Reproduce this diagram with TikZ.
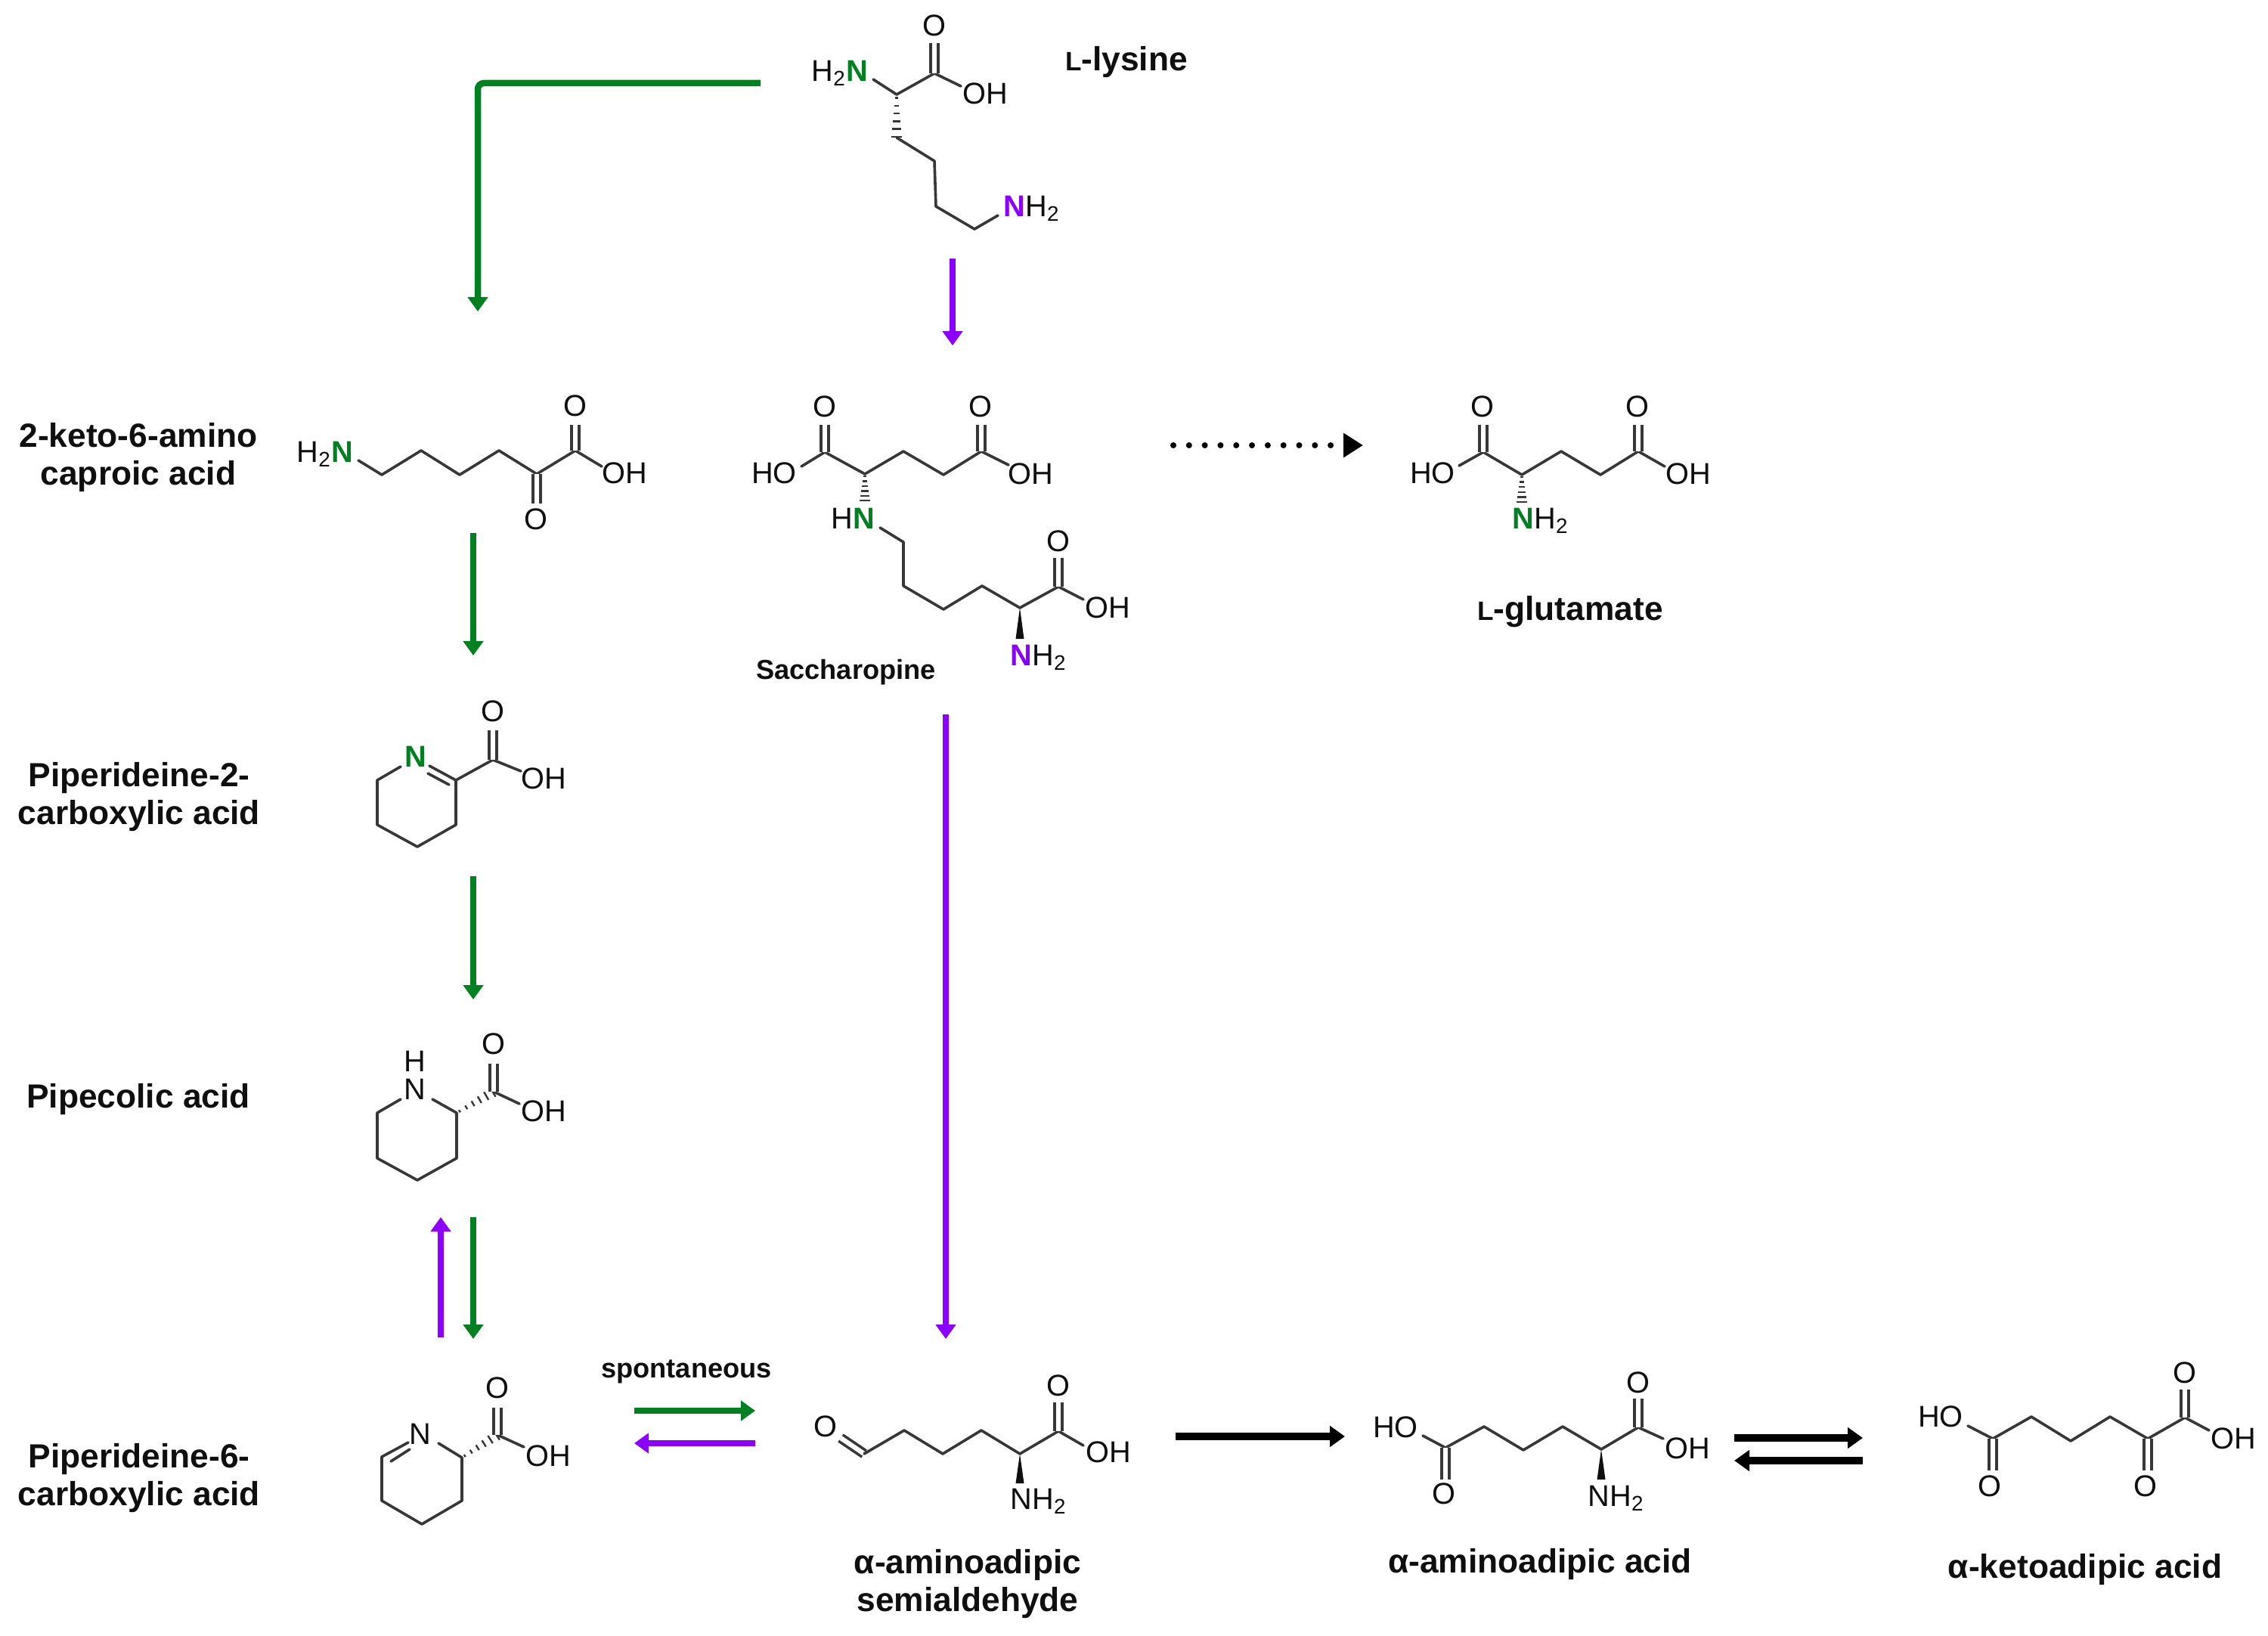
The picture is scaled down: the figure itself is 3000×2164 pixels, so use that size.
\documentclass[tikz,border=0pt]{standalone}
\usepackage{xcolor}
\usepackage{fontspec}
\setmainfont{Liberation Sans}
\usetikzlibrary{arrows.meta, calc}
\definecolor{mygreen}{RGB}{0,128,32}
\definecolor{mypurple}{RGB}{139,0,255}
\definecolor{mybond}{RGB}{55,55,55}
\definecolor{mydark}{RGB}{15,15,15}
\newcommand{\gN}{\textcolor{mygreen}{\textbf{N}}}
\newcommand{\pN}{\textcolor{mypurple}{\textbf{N}}}
\newcommand{\sbtwo}{\textsubscript{2}}
\newcommand{\smallL}{{\fontsize{10}{11}\selectfont L}}
\newcommand{\hashbond}[2]{%
  \foreach \t/\w in {0.08/0.5pt,0.26/0.8pt,0.44/1.1pt,0.62/1.4pt,0.8/1.7pt,0.98/2pt}
    \draw[hash] ($(#1)!\t!(#2)!\w!90:(#2)$) -- ($(#1)!\t!(#2)!\w!-90:(#2)$);}
\newcommand{\wedgebond}[2]{%
  \fill[mydark] (#1) -- ($(#2)!.055cm!90:(#1)$) -- ($(#2)!.055cm!-90:(#1)$) -- cycle;}
\tikzset{
  bond/.style={draw=mybond, line width=.036cm, line cap=round, line join=round},
  dbond/.style={bond, double=white, double distance=.062cm, line cap=butt},
  hash/.style={draw=mybond, line width=.024cm},
  atom/.style={anchor=base, yshift=-.145cm, inner sep=0pt, text=mydark,
    font=\fontsize{11.3}{13}\selectfont},
  atomleft/.style={atom, anchor=base west},
  molname/.style={align=center, inner sep=0pt, text=mydark, yshift=-.04cm,
    font=\bfseries\fontsize{12.6}{14.2}\selectfont},
  smallname/.style={molname, font=\bfseries\fontsize{10.3}{12}\selectfont},
  greenarrow/.style={-{Triangle[length=.19cm,width=.26cm]}, line width=.085cm, color=mygreen},
  purplearrow/.style={-{Triangle[length=.19cm,width=.26cm]}, line width=.085cm, color=mypurple},
  blackarrow/.style={-{Triangle[length=.2cm,width=.27cm]}, line width=.095cm, color=black},
  dotarrow/.style={-{Triangle[length=.26cm,width=.31cm]}, line width=.08cm, color=black,
    line cap=round, dash pattern=on 0pt off .208cm}
}
\begin{document}
\begin{tikzpicture}[x=.01cm, y=-.01cm]
  \useasboundingbox (0,0) rectangle (3000,2164);

  % arrow ends
  \foreach \n/\x/\y in {g1s/1006/110, g1e/632/412, g2s/626/705, g2e/626/867,
      g3s/626/1159, g3e/626/1322, g4s/626/1610, g4e/626/1771, g5s/839/1866, g5e/999/1866,
      p1s/1260/342, p1e/1260/457, p2s/1251/945, p2e/1251/1771, p3s/583/1769, p3e/583/1610,
      p4s/999/1909, p4e/839/1909, k1s/1552/589, k1e/1803/589, k2s/1555/1900, k2e/1779/1900,
      k3s/2294/1902, k3e/2464/1902, k4s/2464/1932, k4e/2294/1932}
    \coordinate (\n) at (\x,\y);

  % L-lysine
  \foreach \n/\x/\y in {a/1155/105, b/1186/125, c/1236/97, d/1236/57, e/1271/114,
      f/1186/182, g/1236/213, h/1238/273, i/1289/303, j/1320/285}
    \coordinate (lys\n) at (\x,\y);
  \draw[bond] (lysa) -- (lysb) -- (lysc) -- (lyse);
  \draw[dbond] (lysc) -- (lysd);
  \hashbond{lysb}{lysf}
  \draw[bond] (lysf) -- (lysg) -- (lysh) -- (lysi) -- (lysj);
  \node[atom] (lysO) at (1236,33) {O};
  \node[atom] (lysOH) at (1303,123) {OH};
  \node[atomleft] (lysNa) at (1073,93) {H\sbtwo\gN};
  \node[atomleft] (lysNb) at (1327,272) {\pN H\sbtwo};
  \node[molname] (lysname) at (1490,78) {\smallL-lysine};

  % 2-keto-6-amino caproic acid
  \foreach \n/\x/\y in {a/474/609, b/505/628, c/557/596, d/608/628, e/660/596, f/710/627,
      g/710/666, h/761/596, i/761/562, j/796/617}
    \coordinate (ket\n) at (\x,\y);
  \draw[bond] (keta) -- (ketb) -- (ketc) -- (ketd) -- (kete) -- (ketf) -- (keth) -- (ketj);
  \draw[dbond] (ketf) -- (ketg);
  \draw[dbond] (keth) -- (keti);
  \node[atomleft] (ketN) at (392,597) {H\sbtwo\gN};
  \node[atom] (ketOa) at (709,686) {O};
  \node[atom] (ketOb) at (761,536) {O};
  \node[atom] (ketOH) at (826,625) {OH};
  \node[molname] (ketname) at (183,601) {2-keto-6-amino\\caproic acid};

  % piperideine-2-carboxylic acid
  \foreach \n/\x/\y in {a/530/1014, b/499/1032, c/499/1091, d/552/1120, e/603/1091, f/603/1032,
      g/568/1013, h/566/1023, i/594/1038, j/652/1005, k/652/966, l/689/1020}
    \coordinate (pta\n) at (\x,\y);
  \draw[bond] (ptaa) -- (ptab) -- (ptac) -- (ptad) -- (ptae) -- (ptaf) -- (ptag);
  \draw[bond] (ptah) -- (ptai);
  \draw[bond] (ptaf) -- (ptaj) -- (ptal);
  \draw[dbond] (ptaj) -- (ptak);
  \node[atom] (ptaN) at (550,1000) {\gN};
  \node[atom] (ptaO) at (652,940) {O};
  \node[atom] (ptaOH) at (719,1029) {OH};
  \node[molname] (ptaname) at (184,1050) {Piperideine-2-\\carboxylic acid};

  % pipecolic acid
  \foreach \n/\x/\y in {a/530/1454, b/499/1472, c/499/1532, d/552/1561, e/604/1532, f/604/1472,
      g/572/1454, h/653/1444, i/653/1407, j/687/1460}
    \coordinate (pip\n) at (\x,\y);
  \draw[bond] (pipa) -- (pipb) -- (pipc) -- (pipd) -- (pipe) -- (pipf) -- (pipg);
  \hashbond{pipf}{piph}
  \draw[bond] (piph) -- (pipj);
  \draw[dbond] (piph) -- (pipi);
  \node[atom] (pipN) at (549,1440) {N};
  \node[atom] (pipH) at (549,1403) {H};
  \node[atom] (pipO) at (653,1380) {O};
  \node[atom] (pipOH) at (719,1469) {OH};
  \node[molname] (pipname) at (183,1450) {Pipecolic acid};

  % piperideine-6-carboxylic acid
  \foreach \n/\x/\y in {a/580/1909, b/611/1928, c/611/1985, d/558/2016, e/505/1985, f/505/1927,
      g/540/1908, h/517/1933, i/542/1917, j/658/1898, k/658/1862, l/693/1914}
    \coordinate (psa\n) at (\x,\y);
  \draw[bond] (psaa) -- (psab) -- (psac) -- (psad) -- (psae) -- (psaf) -- (psag);
  \draw[bond] (psah) -- (psai);
  \hashbond{psab}{psaj}
  \draw[bond] (psaj) -- (psal);
  \draw[dbond] (psaj) -- (psak);
  \node[atom] (psaN) at (556,1896) {N};
  \node[atom] (psaO) at (658,1835) {O};
  \node[atom] (psaOH) at (725,1925) {OH};
  \node[molname] (psaname) at (184,1951) {Piperideine-6-\\carboxylic acid};

  % saccharopine
  \foreach \n/\x/\y in {a/1060/617, b/1091/598, c/1091/562, d/1144/627, e/1195/597, f/1248/628,
      g/1298/597, h/1298/562, i/1334/615, j/1144/663, k/1164/698, l/1195/717, m/1195/775,
      n/1248/806, o/1299/775, p/1349/804, q/1400/776, r/1400/738, s/1433/793, t/1349/845}
    \coordinate (sac\n) at (\x,\y);
  \draw[bond] (saca) -- (sacb) -- (sacd) -- (sace) -- (sacf) -- (sacg) -- (saci);
  \draw[dbond] (sacb) -- (sacc);
  \draw[dbond] (sacg) -- (sach);
  \hashbond{sacd}{sacj}
  \draw[bond] (sack) -- (sacl) -- (sacm) -- (sacn) -- (saco) -- (sacp) -- (sacq) -- (sacs);
  \draw[dbond] (sacq) -- (sacr);
  \wedgebond{sacp}{sact}
  \node[atom] (sacOa) at (1091,537) {O};
  \node[atom] (sacOb) at (1297,537) {O};
  \node[atom] (sacOc) at (1400,715) {O};
  \node[atom] (sacHO) at (1024,625) {HO};
  \node[atom] (sacOHa) at (1363,626) {OH};
  \node[atom] (sacOHb) at (1465,803) {OH};
  \node[atomleft] (sacNa) at (1099,685) {H\gN};
  \node[atomleft] (sacNb) at (1336,866) {\pN H\sbtwo};
  \node[smallname] (sacname) at (1119,885) {Saccharopine};

  % L-glutamate
  \foreach \n/\x/\y in {a/1930/616, b/1962/598, c/1962/562, d/2013/628, e/2065/597, f/2117/628,
      g/2167/597, h/2167/562, i/2202/617, j/2013/665}
    \coordinate (glu\n) at (\x,\y);
  \draw[bond] (glua) -- (glub) -- (glud) -- (glue) -- (gluf) -- (glug) -- (glui);
  \draw[dbond] (glub) -- (gluc);
  \draw[dbond] (glug) -- (gluh);
  \hashbond{glud}{gluj}
  \node[atom] (gluOa) at (1961,537) {O};
  \node[atom] (gluOb) at (2166,537) {O};
  \node[atom] (gluHO) at (1895,625) {HO};
  \node[atom] (gluOH) at (2233,626) {OH};
  \node[atomleft] (gluN) at (2000,685) {\gN H\sbtwo};
  \node[molname] (gluname) at (2077,805) {\smallL-glutamate};

  % aminoadipic semialdehyde
  \foreach \n/\x/\y in {a/1112/1902, b/1143/1923, c/1196/1892, d/1247/1923, e/1298/1892, f/1349/1923,
      g/1400/1893, h/1400/1855, i/1433/1912, j/1349/1962}
    \coordinate (asa\n) at (\x,\y);
  \draw[dbond] (asaa) -- (asab);
  \draw[bond] (asab) -- (asac) -- (asad) -- (asae) -- (asaf) -- (asag) -- (asai);
  \draw[dbond] (asag) -- (asah);
  \wedgebond{asaf}{asaj}
  \node[atom] (asaOa) at (1092,1886) {O};
  \node[atom] (asaOb) at (1400,1832) {O};
  \node[atom] (asaOH) at (1466,1920) {OH};
  \node[atomleft] (asaN) at (1336,1982) {NH\sbtwo};
  \node[molname] (asaname) at (1280,2091) {α-aminoadipic\\semialdehyde};
  \node[smallname] (spont) at (908,1810) {spontaneous};

  % aminoadipic acid
  \foreach \n/\x/\y in {a/1882/1899, b/1912/1915, c/1912/1957, d/1963/1887, e/2015/1918, f/2067/1887,
      g/2118/1917, h/2167/1888, i/2167/1850, j/2200/1903, k/2118/1957}
    \coordinate (aaa\n) at (\x,\y);
  \draw[bond] (aaaa) -- (aaab) -- (aaad) -- (aaae) -- (aaaf) -- (aaag) -- (aaah) -- (aaaj);
  \draw[dbond] (aaab) -- (aaac);
  \draw[dbond] (aaah) -- (aaai);
  \wedgebond{aaag}{aaak}
  \node[atom] (aaaHO) at (1846,1887) {HO};
  \node[atom] (aaaOa) at (1910,1975) {O};
  \node[atom] (aaaOb) at (2167,1828) {O};
  \node[atom] (aaaOH) at (2232,1915) {OH};
  \node[atomleft] (aaaN) at (2100,1978) {NH\sbtwo};
  \node[molname] (aaaname) at (2037,2065) {α-aminoadipic acid};

  % ketoadipic acid
  \foreach \n/\x/\y in {a/2603/1886, b/2636/1903, c/2636/1945, d/2687/1874, e/2739/1906, f/2791/1874,
      g/2841/1903, h/2841/1945, i/2890/1875, j/2890/1838, k/2922/1892}
    \coordinate (aka\n) at (\x,\y);
  \draw[bond] (akaa) -- (akab) -- (akad) -- (akae) -- (akaf) -- (akag) -- (akai) -- (akak);
  \draw[dbond] (akab) -- (akac);
  \draw[dbond] (akag) -- (akah);
  \draw[dbond] (akai) -- (akaj);
  \node[atom] (akaHO) at (2567,1873) {HO};
  \node[atom] (akaOa) at (2632,1965) {O};
  \node[atom] (akaOb) at (2838,1965) {O};
  \node[atom] (akaOc) at (2890,1815) {O};
  \node[atom] (akaOH) at (2954,1902) {OH};
  \node[molname] (akaname) at (2758,2072) {α-ketoadipic acid};

  % pathway arrows
  \draw[greenarrow, rounded corners=.08cm] (g1s) -| (g1e);
  \draw[greenarrow] (g2s) -- (g2e);
  \draw[greenarrow] (g3s) -- (g3e);
  \draw[greenarrow] (g4s) -- (g4e);
  \draw[greenarrow] (g5s) -- (g5e);
  \draw[purplearrow] (p1s) -- (p1e);
  \draw[purplearrow] (p2s) -- (p2e);
  \draw[purplearrow] (p3s) -- (p3e);
  \draw[purplearrow] (p4s) -- (p4e);
  \draw[dotarrow] (k1s) -- (k1e);
  \draw[blackarrow] (k2s) -- (k2e);
  \draw[blackarrow] (k3s) -- (k3e);
  \draw[blackarrow] (k4s) -- (k4e);
\end{tikzpicture}
\end{document}
